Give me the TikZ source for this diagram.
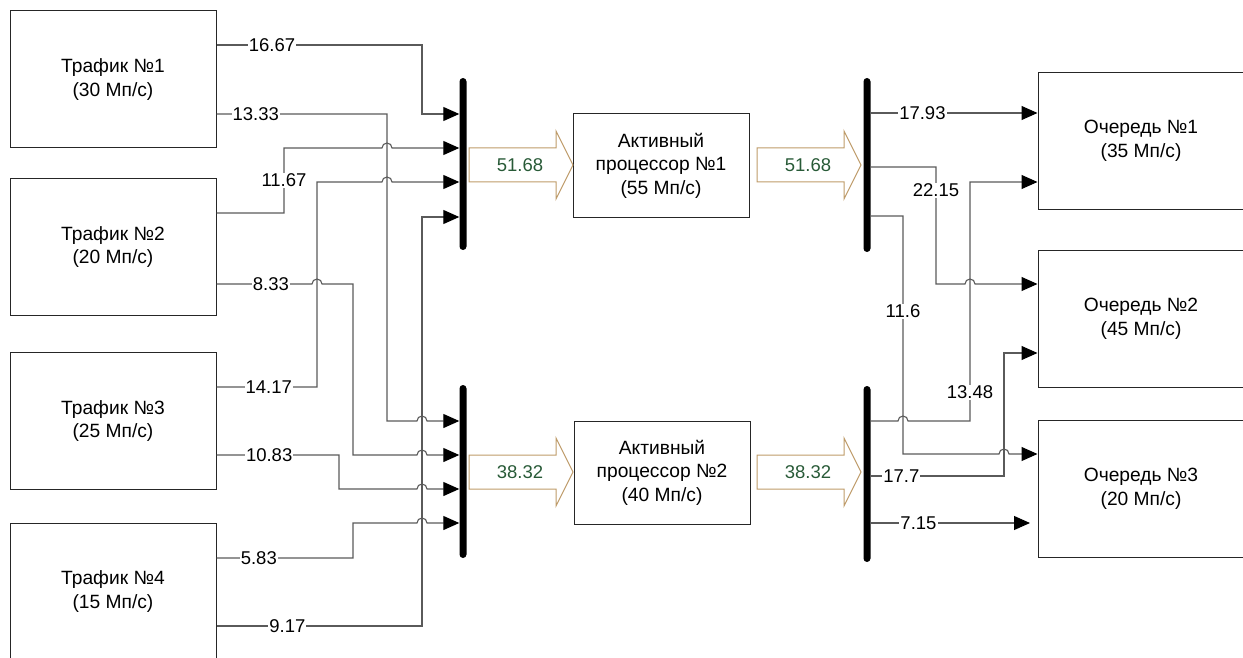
\documentclass[tikz,border=0pt]{standalone}
\usepackage{fontspec}
\setmainfont{Liberation Sans}
\usetikzlibrary{arrows.meta}
\definecolor{flowtan}{RGB}{190,155,105}
\definecolor{flowgreen}{RGB}{40,90,55}
\definecolor{wiregray}{RGB}{90,90,90}

\begin{document}
\begin{tikzpicture}[x=1pt, y=-1pt,
        box/.style={rectangle, draw=black!85, line width=1pt, minimum width=206pt, minimum height=137pt, align=center, inner sep=0pt, font=\fontsize{19.2}{23.5}\selectfont},
        proc/.style={box, minimum width=176pt, minimum height=103pt},
        bus/.style={rectangle, fill=black, rounded corners=3.5pt, minimum width=7pt, inner sep=0pt},
        hollow/.style={draw=flowtan, line width=1pt, line join=miter},
        flowtext/.style={text=flowgreen, inner sep=0pt, font=\fontsize{18.5}{23}\selectfont},
        wire/.style={draw=wiregray, line width=1.1pt, -{Triangle[length=16pt, width=14pt, color=black]}},
        lbl/.style={fill=white, inner sep=1pt, font=\fontsize{18.5}{23}\selectfont}
    ]
        \useasboundingbox (0,0) rectangle (1243,658);

        % Traffic sources
        \node[box] (t1) at (113,79.5) {Трафик №1\\(30 Мп/с)};
        \node[box] (t2) at (113,247) {Трафик №2\\(20 Мп/с)};
        \node[box] (t3) at (113,421) {Трафик №3\\(25 Мп/с)};
        \node[box] (t4) at (113,591.5) {Трафик №4\\(15 Мп/с)};

        % Buses
        \node[bus, minimum height=172pt] (b1) at (463,164) {};
        \node[bus, minimum height=173pt] (b2) at (463,471.5) {};
        \node[bus, minimum height=174pt] (b3) at (867,165) {};
        \node[bus, minimum height=176pt] (b4) at (867,474) {};

        % Processors
        \node[proc] (p1) at (661,165.5) {Активный\\процессор №1\\(55 Мп/с)};
        \node[proc] (p2) at (662,472.5) {Активный\\процессор №2\\(40 Мп/с)};

        % Queues
        \node[box] (q1) at (1141,141) {Очередь №1\\(35 Мп/с)};
        \node[box] (q2) at (1141,319) {Очередь №2\\(45 Мп/с)};
        \node[box] (q3) at (1141,489) {Очередь №3\\(20 Мп/с)};
        \coordinate (q3in) at (1030,523);

        % Hollow arrows
        \foreach \ax/\ay/\val in {469/165/51.68, 757/165/51.68, 469/472/38.32, 757/472/38.32} {
            \draw[hollow] (\ax,\ay-17) -- ++(87,0) -- ++(0,-17) -- ++(17,34) -- ++(-17,34) -- ++(0,-17) -- ++(-87,0) -- cycle;
            \node[flowtext] at (\ax+51,\ay) {\val};
        }

        % Traffic to buses
        \draw[wire] (t1.east |- 0,45) -- node[lbl, pos=.27] {16.67} (422,45) -- (422,114) -- (b1.west |- 0,114);
        \draw[wire] (t1.east |- 0,114) -- node[lbl, pos=.23] {13.33} (387,114) -- (387,421) -- (417,421)
            arc[start angle=180, end angle=0, radius=5pt] -- (b2.west |- 0,421);
        \draw[wire] (t2.east |- 0,213) -- (284,213) -- node[lbl, pos=.5] {11.67} (284,148) -- (382,148)
            arc[start angle=180, end angle=0, radius=5pt] -- (b1.west |- 0,148);
        \draw[wire] (t2.east |- 0,284) -- node[lbl, pos=.57] {8.33} (312,284)
            arc[start angle=180, end angle=0, radius=5pt] -- (353,284) -- (353,455) -- (417,455)
            arc[start angle=180, end angle=0, radius=5pt] -- (b2.west |- 0,455);
        \draw[wire] (t3.east |- 0,387) -- node[lbl, pos=.52] {14.17} (317,387) -- (317,182) -- (382,182)
            arc[start angle=180, end angle=0, radius=5pt] -- (b1.west |- 0,182);
        \draw[wire] (t3.east |- 0,455) -- node[lbl, pos=.43] {10.83} (339,455) -- (339,489) -- (417,489)
            arc[start angle=180, end angle=0, radius=5pt] -- (b2.west |- 0,489);
        \draw[wire] (t4.east |- 0,558) -- node[lbl, pos=.31] {5.83} (353,558) -- (353,523) -- (417,523)
            arc[start angle=180, end angle=0, radius=5pt] -- (b2.west |- 0,523);
        \draw[wire] (t4.east |- 0,626) -- node[lbl, pos=.345] {9.17} (422,626) -- (422,217) -- (b1.west |- 0,217);

        % Buses to queues
        \draw[wire] (b3.east |- 0,113) -- node[lbl, pos=.31] {17.93} (q1.west |- 0,113);
        \draw[wire] (b3.east |- 0,167) -- (936,167) -- node[lbl, pos=.2] {22.15} (936,284) -- (965,284)
            arc[start angle=180, end angle=0, radius=5pt] -- (q2.west |- 0,284);
        \draw[wire] (b3.east |- 0,216) -- (903,216) -- node[lbl, pos=.4] {11.6} (903,454) -- (999,454)
            arc[start angle=180, end angle=0, radius=5pt] -- (q3.west |- 0,454);
        \draw[wire] (b4.east |- 0,421) -- (898,421)
            arc[start angle=180, end angle=0, radius=5pt] -- (970,421) -- node[lbl, pos=.12] {13.48} (970,182) -- (q1.west |- 0,182);
        \draw[wire] (b4.east |- 0,476) -- node[lbl, pos=.23] {17.7} (1004,476) -- (1004,353) -- (q2.west |- 0,353);
        \draw[wire] (b4.east |- 0,523) -- node[lbl, pos=.3] {7.15} (q3in);
    \end{tikzpicture}
\end{document}
